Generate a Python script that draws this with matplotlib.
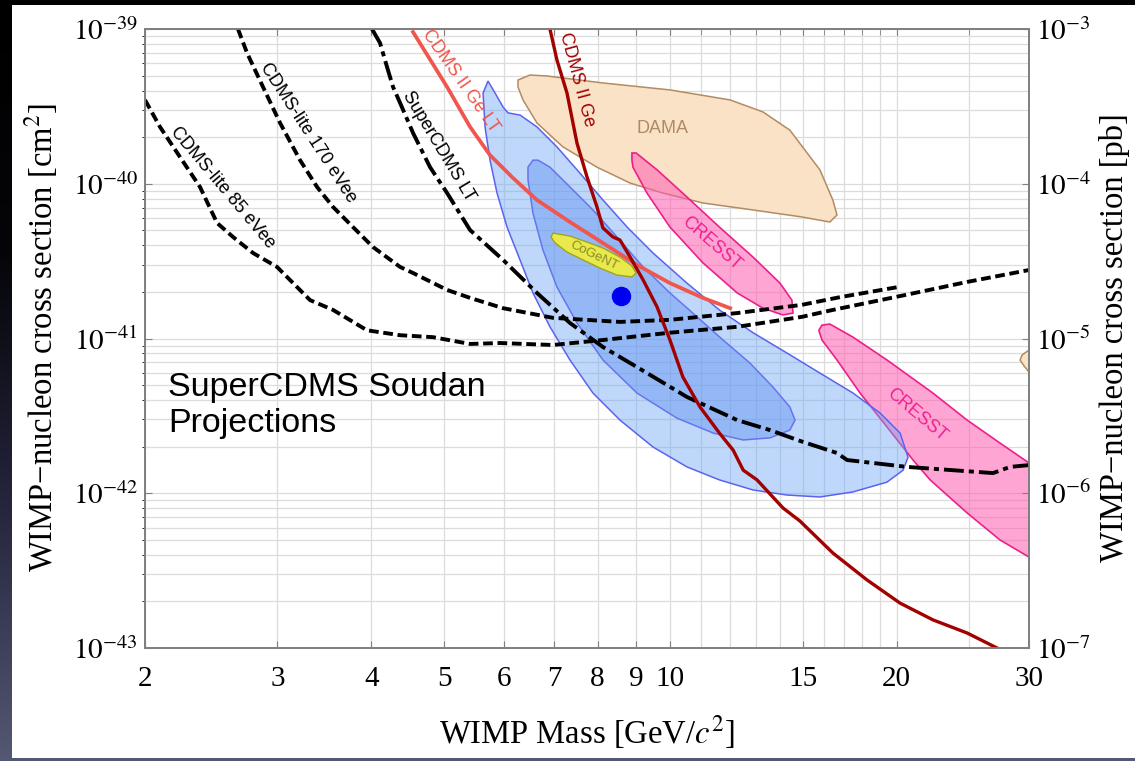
import numpy as np
import matplotlib
matplotlib.use("Agg")
import matplotlib.pyplot as plt
from matplotlib.colors import LinearSegmentedColormap, to_rgba
from matplotlib.patches import Rectangle
from matplotlib.ticker import NullFormatter, NullLocator

plt.rcParams['font.family'] = ['Liberation Serif', 'DejaVu Serif']
plt.rcParams['mathtext.fontset'] = 'stix'
SANS = ['Liberation Sans', 'DejaVu Sans']

# ---- limit curves: WIMP mass [GeV], cross section [cm^2] ----
lite85_mass = [2.000, 2.094, 2.226, 2.367, 2.494, 2.619, 2.784, 2.997, 3.316, 3.558, 3.948, 4.369,
               4.833, 5.414, 5.935, 6.979, 8.134, 9.987, 12.27, 14.96, 16.45, 20.21, 24.82, 30.0]
lite85_xs = [3.48e-40, 2.33e-40, 1.49e-40, 9.53e-41, 5.58e-41, 4.53e-41, 3.57e-41, 2.90e-41, 1.77e-41,
             1.53e-41, 1.13e-41, 1.05e-41, 1.02e-41, 9.22e-42, 9.35e-42, 9.08e-42, 9.78e-42, 1.09e-41,
             1.19e-41, 1.38e-41, 1.53e-41, 1.88e-41, 2.32e-41, 2.77e-41]

lite170_mass = [2.659, 2.734, 2.871, 3.025, 3.216, 3.388, 3.558, 3.782, 4.021, 4.369, 4.546, 5.046,
                5.414, 5.990, 6.979, 8.569, 9.987, 12.27, 14.96, 16.81, 20.09]
lite170_xs = [1.0e-39, 7.00e-40, 4.22e-40, 2.47e-40, 1.42e-40, 9.53e-41, 7.08e-41, 5.25e-41, 3.90e-41,
              2.90e-41, 2.65e-41, 2.06e-41, 1.83e-41, 1.57e-41, 1.36e-41, 1.28e-41, 1.32e-41, 1.46e-41,
              1.65e-41, 1.85e-41, 2.15e-41]

lt_mass = [4.009, 4.109, 4.198, 4.276, 4.369, 4.546, 4.789, 5.046, 5.414, 5.990, 6.645, 7.352, 8.134,
           9.027, 10.52, 12.27, 13.57, 14.87, 16.66, 17.18, 20.65, 26.87, 28.31, 30.0]
lt_xs = [1.0e-39, 8.12e-40, 5.68e-40, 4.22e-40, 3.33e-40, 2.13e-40, 1.28e-40, 8.71e-41, 5.02e-41,
         3.22e-41, 1.97e-41, 1.26e-41, 8.81e-42, 6.54e-42, 4.19e-42, 2.97e-42, 2.56e-42, 2.18e-42,
         1.82e-42, 1.64e-42, 1.48e-42, 1.35e-42, 1.48e-42, 1.52e-42]

ge_lt_mass = [4.546, 5.046, 5.414, 5.755, 6.175, 6.645, 7.352, 8.134, 9.027, 9.987, 11.05, 12.01]
ge_lt_xs = [9.56e-40, 4.22e-40, 2.33e-40, 1.53e-40, 1.09e-40, 7.85e-41, 5.66e-41, 4.14e-41, 2.99e-41,
            2.28e-41, 1.83e-41, 1.57e-41]

ge_mass = [6.915, 7.065, 7.285, 7.512, 7.745, 7.986, 8.134, 8.387, 8.569, 8.840, 9.199, 9.600, 9.987,
           10.39, 10.95, 11.62, 12.12, 12.50, 13.04, 14.12, 14.87, 16.45, 18.27, 20.21, 22.35, 24.82, 27.20]
ge_xs = [1.0e-39, 6.30e-40, 3.86e-40, 1.83e-40, 1.11e-40, 7.08e-41, 5.18e-41, 4.53e-41, 4.33e-41,
         3.36e-41, 2.39e-41, 1.60e-41, 9.78e-42, 5.64e-42, 3.61e-42, 2.45e-42, 1.90e-42, 1.41e-42,
         1.22e-42, 8.03e-43, 6.62e-43, 4.11e-43, 2.75e-43, 1.95e-43, 1.52e-43, 1.25e-43, 1.0e-43]

# ---- signal regions (closed outlines) ----
cdmssi_out_mass = [5.720, 5.844, 5.990, 6.082, 6.309, 6.645, 7.065, 7.581, 8.134, 8.759, 9.481, 10.52,
                   11.62, 12.88, 14.29, 15.81, 17.50, 19.01, 20.21, 20.71, 20.40, 19.42, 17.50, 15.81,
                   14.29, 12.88, 11.62, 10.52, 9.481, 8.569, 7.889, 7.352, 6.915, 6.564, 6.309, 6.063,
                   5.880, 5.755, 5.668, 5.634]
cdmssi_out_xs = [4.61e-40, 3.86e-40, 3.13e-40, 2.87e-40, 2.78e-40, 2.33e-40, 1.73e-40, 1.17e-40, 7.85e-41,
                 5.25e-41, 3.57e-41, 2.28e-41, 1.53e-41, 1.09e-41, 8.06e-42, 5.98e-42, 4.44e-42, 3.30e-42,
                 2.45e-42, 1.71e-42, 1.41e-42, 1.18e-42, 1.02e-42, 9.46e-43, 9.74e-43, 1.05e-42, 1.22e-42,
                 1.48e-42, 1.99e-42, 2.97e-42, 4.44e-42, 7.26e-42, 1.19e-41, 1.97e-41, 3.22e-41, 5.25e-41,
                 8.71e-41, 1.42e-40, 2.33e-40, 3.86e-40]

cdmssi_in_mass = [6.564, 6.667, 6.915, 7.352, 7.889, 8.490, 9.199, 9.987, 10.85, 11.75, 12.76, 13.69,
                  14.42, 14.65, 14.42, 13.57, 12.50, 11.40, 10.20, 9.027, 8.134, 7.512, 7.065, 6.768,
                  6.564, 6.465, 6.465]
cdmssi_in_xs = [1.42e-40, 1.42e-40, 1.28e-40, 9.53e-41, 6.77e-41, 4.53e-41, 2.90e-41, 1.97e-41, 1.38e-41,
                9.78e-42, 6.94e-42, 4.86e-42, 3.61e-42, 2.97e-42, 2.56e-42, 2.28e-42, 2.21e-42, 2.45e-42,
                3.06e-42, 4.44e-42, 7.26e-42, 1.26e-41, 2.15e-41, 3.73e-41, 6.47e-41, 1.06e-40, 1.28e-40]
cdmssi_best = (8.599, 1.88e-41)

cogent_mass = [6.979, 7.352, 7.745, 8.134, 8.569, 8.889, 9.004, 8.889, 8.490, 8.060, 7.651, 7.285,
               7.026, 6.938]
cogent_xs = [4.80e-41, 4.59e-41, 4.20e-41, 3.84e-41, 3.36e-41, 2.94e-41, 2.65e-41, 2.50e-41, 2.57e-41,
             2.85e-41, 3.22e-41, 3.62e-41, 4.14e-41, 4.53e-41]

dama_mass = [6.270, 6.504, 6.852, 8.134, 9.987, 12.01, 13.28, 14.42, 15.81, 16.45, 16.66, 16.30, 14.96,
             12.88, 11.05, 9.776, 8.840, 7.986, 7.196, 6.645, 6.367, 6.270]
dama_xs = [4.68e-40, 5.04e-40, 4.97e-40, 4.48e-40, 4.04e-40, 3.48e-40, 2.91e-40, 2.22e-40, 1.23e-40,
           7.85e-41, 6.28e-41, 5.66e-41, 6.10e-41, 6.77e-41, 7.51e-41, 8.71e-41, 1.01e-40, 1.28e-40,
           1.73e-40, 2.47e-40, 3.48e-40, 4.22e-40]
dama2_mass = [30.0, 29.37, 29.19, 29.55, 30.0]
dama2_xs = [8.43e-42, 7.82e-42, 7.26e-42, 6.64e-42, 6.07e-42]

cresst1_mass = [8.889, 9.004, 9.600, 10.52, 11.62, 12.88, 13.99, 14.51, 14.56, 14.12, 13.28, 12.27,
                11.05, 9.987, 9.308, 8.917, 8.889]
cresst1_xs = [1.58e-40, 1.58e-40, 1.23e-40, 8.21e-41, 5.25e-41, 3.36e-41, 2.28e-41, 1.77e-41, 1.46e-41,
              1.42e-41, 1.57e-41, 1.97e-41, 3.08e-41, 5.25e-41, 8.71e-41, 1.28e-40, 1.42e-40]

cresst2_mass = [15.76, 15.91, 16.30, 17.50, 19.42, 22.35, 24.82, 27.45, 30.0, 30.0, 27.45, 24.82, 22.16,
                21.03, 19.42, 17.88, 16.66, 15.91]
cresst2_xs = [1.13e-41, 1.22e-41, 1.24e-41, 1.02e-41, 7.26e-42, 4.44e-42, 2.97e-42, 2.11e-42, 1.57e-42,
              3.87e-43, 4.99e-43, 7.46e-43, 1.22e-42, 1.64e-42, 2.68e-42, 4.44e-42, 7.26e-42, 9.78e-42]

x_ticks = [2, 3, 4, 5, 6, 7, 8, 9, 10, 15, 20, 30]
x_minor = [11, 12, 13, 14, 16, 17, 18, 19, 25]
y_decades = [-43, -42, -41, -40, -39]
pb_decades = [-7, -6, -5, -4, -3]

# ---- figure with slide-like background ----
fig = plt.figure(figsize=(11.35, 7.61), dpi=100)
bg = fig.add_axes([0, 0, 1, 1], zorder=-10)
cmap = LinearSegmentedColormap.from_list('bg', ['#000000', '#050509', '#25253d', '#555872'])
bg.imshow(np.linspace(0, 1, 256).reshape(-1, 1), cmap=cmap, aspect='auto', extent=[0, 1, 0, 1])
bg.add_patch(Rectangle((12 / 1135, 3 / 761), 1, 753 / 761, transform=bg.transAxes,
                       facecolor='white', edgecolor='none'))
bg.set_xlim(0, 1)
bg.set_ylim(0, 1)
bg.set_xticks([])
bg.set_yticks([])
bg.axis('off')

ax = fig.add_axes([145 / 1135, 1 - 648 / 761, 884 / 1135, 619 / 761])
ax.set_xscale('log')
ax.set_yscale('log')
ax.set_xlim(2, 30)
ax.set_ylim(1e-43, 1e-39)

# regions
ax.fill(dama_mass, dama_xs, facecolor='#f9e2c6', edgecolor='#b38b63', lw=1.1, zorder=2)
ax.fill(dama2_mass, dama2_xs, facecolor='#f9e2c6', edgecolor='#b38b63', lw=1.1, zorder=2)
pink = to_rgba('#ff5cb0', 0.55)
ax.fill(cresst1_mass, cresst1_xs, facecolor=pink, edgecolor='#ee1f8c', lw=1.2, zorder=2.1)
ax.fill(cresst2_mass, cresst2_xs, facecolor=pink, edgecolor='#ee1f8c', lw=1.2, zorder=2.1)
ax.fill(cdmssi_out_mass, cdmssi_out_xs, facecolor=to_rgba('#6fa8f5', 0.45), edgecolor='#5b63ee',
        lw=1.1, zorder=2.2)
ax.fill(cdmssi_in_mass, cdmssi_in_xs, facecolor=to_rgba('#5a8ff0', 0.42), edgecolor='#6675ee',
        lw=1.1, zorder=2.3)
ax.fill(cogent_mass, cogent_xs, facecolor='#e8e94a', edgecolor='#a3a31c', lw=1.0, zorder=2.4)

# limit curves
ax.plot(lite85_mass, lite85_xs, color='black', lw=2.8, dashes=(2.5, 1.2), zorder=3)
ax.plot(lite170_mass, lite170_xs, color='black', lw=2.8, dashes=(2.5, 1.2), zorder=3)
ax.plot(lt_mass, lt_xs, color='black', lw=2.8, dashes=(5.1, 1.3, 1.3, 1.3), zorder=3)
ax.plot(ge_lt_mass, ge_lt_xs, color='#f0564d', lw=2.7, zorder=3)
ax.plot(ge_mass, ge_xs, color='#a30000', lw=2.4, zorder=3)
ax.plot(*cdmssi_best, 'o', color='#0000f0', ms=13, zorder=4)

# labels inside the plot
lab = dict(family=SANS, fontsize=13, ha='center', va='center', rotation_mode='anchor', zorder=5)
ax.text(2.540, 9.39e-41, 'CDMS-lite 85 eVee', rotation=-50, color='black', **lab)
ax.text(3.296, 2.13e-40, 'CDMS-lite 170 eVee', rotation=-57, color='black', **lab)
ax.text(4.92, 1.74e-40, 'SuperCDMS LT', rotation=-59, color='black', **lab)
ax.text(5.26, 4.60e-40, 'CDMS II Ge LT', rotation=-55, color='#f0564d', **lab)
ax.text(7.50, 4.68e-40, 'CDMS II Ge', rotation=-75, color='#a30000', **lab)
ax.text(9.747, 2.26e-40, 'DAMA', rotation=0, color='#b08a65', **lab)
ax.text(11.33, 4.14e-41, 'CRESST', rotation=-41, color='#ee2090', **lab)
ax.text(21.29, 3.20e-42, 'CRESST', rotation=-40, color='#ee2090', **lab)
lab['fontsize'] = 9.5
ax.text(7.916, 3.41e-41, 'CoGeNT', rotation=-26, color='#8a8a2a', **lab)
ax.text(0.026, 0.446, 'SuperCDMS Soudan\nProjections', transform=ax.transAxes, ha='left', va='top',
        family=SANS, fontsize=24.5, color='black')

# axes styling
ax.set_xticks(x_ticks)
ax.set_xticklabels([str(t) for t in x_ticks])
ax.set_xticks(x_minor, minor=True)
ax.xaxis.set_minor_formatter(NullFormatter())
ax.set_yticks([10.0 ** e for e in y_decades])
ax.set_yticklabels(['$10^{%d}$' % e for e in y_decades])
ax.set_yticks([m * 10.0 ** e for e in y_decades[:-1] for m in range(2, 10)], minor=True)
ax.yaxis.set_minor_formatter(NullFormatter())
ax.grid(True, which='both', color='#dcdcdc', lw=0.9)
ax.set_axisbelow(True)
ax.tick_params(axis='x', which='major', direction='in', length=5, top=True, bottom=True,
               color='#808080', labelsize=21, pad=13)
ax.tick_params(axis='x', which='minor', direction='in', length=4, top=True, bottom=False,
               color='#808080')
ax.tick_params(axis='y', which='major', direction='in', length=5, left=True, right=False,
               color='#808080', labelsize=21, pad=5)
ax.tick_params(axis='y', which='minor', left=False, right=False)
for s in ax.spines.values():
    s.set_color('#808080')
    s.set_linewidth(1.3)

ax2 = ax.twinx()
ax2.set_yscale('log')
ax2.set_ylim(1e-7, 1e-3)
ax2.set_yticks([10.0 ** e for e in pb_decades])
ax2.set_yticklabels(['$10^{%d}$' % e for e in pb_decades])
ax2.yaxis.set_minor_locator(NullLocator())
ax2.tick_params(axis='y', which='major', direction='in', length=5, color='#808080',
                labelsize=21, pad=5)
for s in ax2.spines.values():
    s.set_color('#808080')
    s.set_linewidth(1.3)

fig.text(587 / 1135, 1 - 743 / 761, 'WIMP Mass [GeV/$c^2$]', ha='center', va='baseline', fontsize=23.5)
fig.text(41 / 1135, 1 - 338 / 761, 'WIMP\u2212nucleon cross section [cm$^2$]', rotation=90,
         ha='center', va='center', fontsize=23.5)
fig.text(1114 / 1135, 1 - 338 / 761, 'WIMP\u2212nucleon cross section [pb]', rotation=90,
         ha='center', va='center', fontsize=23.5)

fig.savefig('out.png', dpi=100)
